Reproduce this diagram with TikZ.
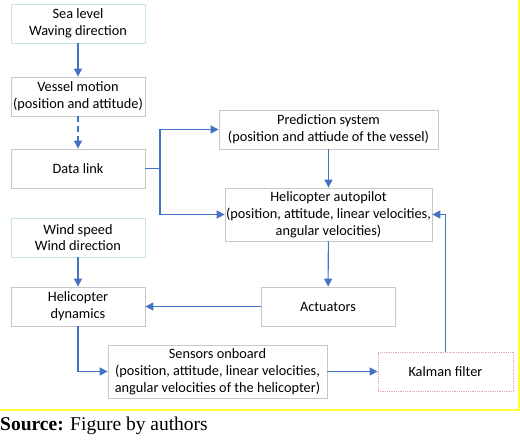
\documentclass[tikz,border=0pt]{standalone}
\usepackage{fontspec}
\setmainfont{Carlito}
\newfontfamily\srcfont{Liberation Serif}
\usetikzlibrary{arrows.meta,positioning}
\definecolor{arrowblue}{HTML}{4472C4}
\definecolor{boxgray}{HTML}{C8C8C8}
\definecolor{boxteal}{HTML}{C6E7DE}
\definecolor{boxpink}{HTML}{E2A6AC}
\definecolor{frameyellow}{HTML}{FFFF33}

\tikzset{
	blk/.style={draw=boxgray, fill=white, line width=0.8pt, align=center, inner sep=1pt,
		minimum width=134pt, minimum height=39pt,
		font=\fontsize{14.3}{16.8}\selectfont},
	inblk/.style={blk, draw=boxteal},
	wide/.style={minimum width=219pt},
	flow/.style={arrowblue, line width=1.1pt, -{Triangle[length=8pt,width=8pt]}},
}

\begin{document}
\begin{tikzpicture}[x=1pt,y=-1pt]
			\useasboundingbox (0,0) rectangle (520,440);
			\draw[frameyellow, line width=1.5pt] (519,0) -- (519,410) -- (0,410);
			% left column
			\node[inblk] (sea) at (78,23.5) {Sea level\\Waving direction};
			\node[blk] (vessel) at (78,96.5) {Vessel motion\\(position and attitude)};
			\node[blk] (link) at (78,168.5) {Data link};
			\node[inblk] (wind) at (78,237.5) {Wind speed\\Wind direction};
			\node[blk] (dyn) at (78,306.5) {Helicopter\\dynamics};
			% right column
			\node[blk, wide] (pred) at (328.5,129.5) {Prediction system\\(position and attiude of the vessel)};
			\node[blk, minimum width=205pt, minimum height=53pt] (auto) at (328.5,214.5)
				{Helicopter autopilot\\(position, attitude, linear velocities,\\angular velocities)};
			\node[blk] (act) at (328,306.5) {Actuators};
			\node[blk, wide, minimum height=53pt] (sens) at (217.5,371.5)
				{Sensors onboard\\(position, attitude, linear velocities,\\angular velocities of the helicopter)};
			\node[blk, draw=boxpink, densely dotted, minimum width=135pt] (kal) at (445.5,371.5) {Kalman filter};
			\coordinate (split) at (160,168.5);
			% connectors
			\draw[flow] (sea) -- (vessel);
			\draw[flow, dashed, dash pattern=on 6pt off 4pt] (vessel) -- (link);
			\draw[arrowblue, line width=1.1pt] (link) -- (split);
			\draw[flow] (split) |- (pred);
			\draw[flow] (split) |- (auto);
			\draw[flow] (pred) -- (auto);
			\draw[flow] (auto) -- (act);
			\draw[flow] (act) -- (dyn);
			\draw[flow] (wind) -- (dyn);
			\draw[flow] (dyn) |- (sens);
			\draw[flow] (sens) -- (kal);
			\draw[flow] (kal) |- (auto);
			% caption
			\node[anchor=west, inner sep=0pt, font=\srcfont\fontsize{19.5}{22}\selectfont] (src) at (0,426)
				{\textbf{Source:} Figure by authors};
		\end{tikzpicture}
\end{document}
